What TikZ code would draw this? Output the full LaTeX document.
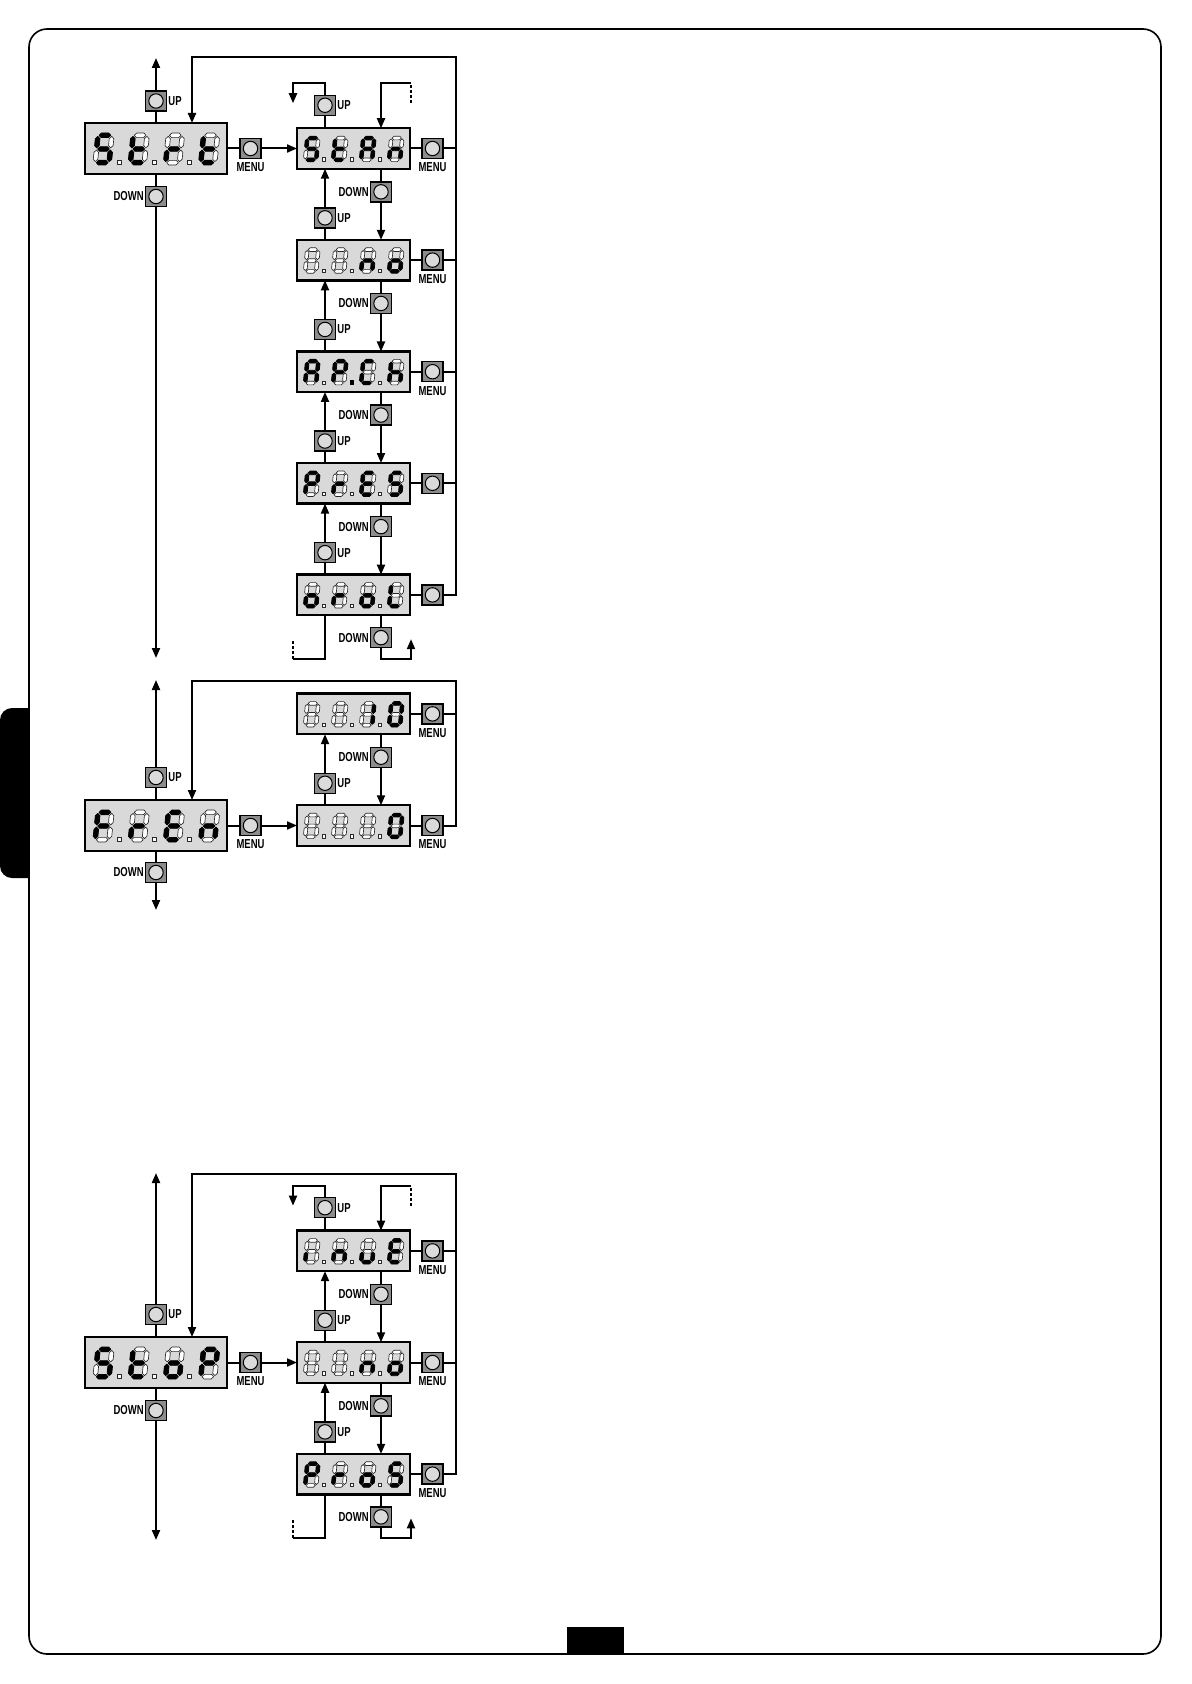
\documentclass[tikz,border=0pt]{standalone}
\usepackage{fontspec}
\setmainfont{Liberation Sans}
\usepackage{graphicx}
\usetikzlibrary{arrows.meta}
\definecolor{dispbg}{gray}{0.85}
\definecolor{btnfill}{gray}{0.55}
\definecolor{btncirc}{gray}{0.86}
\tikzset{
 bigdisp/.style={draw=black, line width=1.2pt, fill=dispbg, minimum width=71pt, minimum height=25.5pt, inner sep=0pt, outer sep=0pt},
 smalldisp/.style={bigdisp, minimum width=56.5pt, minimum height=20.25pt},
 btn/.style={draw=black, line width=0.7pt, fill=btnfill, minimum width=10.5pt, minimum height=10pt, inner sep=0pt, outer sep=0pt,
   path picture={\draw[line width=0.5pt, fill=btncirc] (path picture bounding box.center) circle (3.6pt);}},
 conn/.style={line width=1pt},
 arr/.style={conn, -{Triangle[length=5pt,width=4pt]}},
 dsh/.style={line width=1pt, dash pattern=on 1.5pt off 1pt},
 lbl/.style={inner sep=0pt, font=\fontsize{6.5}{7}\selectfont\bfseries},
 sg0/.style={fill=white, draw=black!85, line width=0.32pt, line join=round},
 sg1/.style={fill=black, draw=black, line width=0.4pt, line join=round},
}
\newcommand\btnlbl[1]{\scalebox{0.73}[1]{#1}}
\newcommand\sevseg[7]{%
 \path[sg#1] (3.4,-29.7) -- (5.7,-32) -- (12.8,-32) -- (15.1,-29.7) -- (12.8,-27.4) -- (5.7,-27.4) -- cycle;
 \path[sg#2] (16.2,-28.6) -- (18.5,-26.3) -- (18.5,-19.4) -- (16.2,-17.1) -- (13.9,-19.4) -- (13.9,-26.3) -- cycle;
 \path[sg#3] (16.2,-14.9) -- (18.5,-12.6) -- (18.5,-5.7) -- (16.2,-3.4) -- (13.9,-5.7) -- (13.9,-12.6) -- cycle;
 \path[sg#4] (3.4,-2.3) -- (5.7,-4.6) -- (12.8,-4.6) -- (15.1,-2.3) -- (12.8,0) -- (5.7,0) -- cycle;
 \path[sg#5] (2.3,-14.9) -- (4.6,-12.6) -- (4.6,-5.7) -- (2.3,-3.4) -- (0,-5.7) -- (0,-12.6) -- cycle;
 \path[sg#6] (2.3,-28.6) -- (4.6,-26.3) -- (4.6,-19.4) -- (2.3,-17.1) -- (0,-19.4) -- (0,-26.3) -- cycle;
 \path[sg#7] (3.4,-16) -- (5.7,-18.3) -- (12.8,-18.3) -- (15.1,-16) -- (12.8,-13.7) -- (5.7,-13.7) -- cycle;
}
\def\dpts#1#2#3{%
 \path[sg#1] (32.2,37) rectangle (36.2,41);
 \path[sg#2] (67.4,37) rectangle (71.4,41);
 \path[sg#3] (102.6,37) rectangle (106.6,41);}
\newcommand\showdisp[7]{%
 \begin{scope}[shift={(#1.north west)}, scale=#2]
  \begin{scope}[shift={(7.7,42)}, xslant=0.1]\sevseg#3\end{scope}
  \begin{scope}[shift={(42.9,42)}, xslant=0.1]\sevseg#4\end{scope}
  \begin{scope}[shift={(78.1,42)}, xslant=0.1]\sevseg#5\end{scope}
  \begin{scope}[shift={(113.3,42)}, xslant=0.1]\sevseg#6\end{scope}
  \dpts#7
 \end{scope}}
% up/down pair between two stacked small displays
\newcommand\pair[4]{%
 \draw[arr] (#3) -- (#3 |- #1.south);
 \draw[conn] (#2.north -| #3) -- (#3);
 \draw[conn] (#1.south -| #4) -- (#4);
 \draw[arr] (#4) -- (#4 |- #2.north);
 \node[lbl,anchor=west,xshift=0.75pt] (#3l) at (#3.east) {\btnlbl{UP}};
 \node[lbl,anchor=east,xshift=-0.75pt] (#4l) at (#4.west) {\btnlbl{DOWN}};
}
\newcommand\uplbl[1]{\node[lbl,anchor=west,xshift=0.75pt] (#1l) at (#1.east) {\btnlbl{UP}};}
\newcommand\dnlbl[1]{\node[lbl,anchor=east,xshift=-0.75pt] (#1l) at (#1.west) {\btnlbl{DOWN}};}
\newcommand\mnlbl[1]{\node[lbl,anchor=north,yshift=-2pt] (#1l) at (#1.south) {\btnlbl{MENU}};}

\begin{document}
\begin{tikzpicture}[x=0.5pt,y=-0.5pt]
\useasboundingbox (0,0) rectangle (1191,1684);
% page decorations
\fill (29,708) -- (12,708) arc[start angle=90,end angle=180,radius=6pt] -- (0,866) arc[start angle=180,end angle=270,radius=6pt] -- (29,878) -- cycle;
\fill (567,1627) rectangle (624,1654);
\draw[line width=0.8pt, rounded corners=9pt] (29,29) rectangle (1161,1654);

% ================= SECTION 1 =================
\node[bigdisp] (strt) at (156,148.5) {};
\node[btn] (s1up) at (156,101) {};
\node[btn] (s1dn) at (156,196.5) {};
\node[btn] (s1mn) at (250.5,148.5) {};
\coordinate (s1top) at (156,58);
\coordinate (s1bot) at (156,658);
\uplbl{s1up}\dnlbl{s1dn}\mnlbl{s1mn}
\draw[conn] (strt) -- (s1up);
\draw[arr] (s1up) -- (s1top);
\draw[conn] (strt) -- (s1dn);
\draw[arr] (s1dn) -- (s1bot);

\node[smalldisp] (d10) at (353.5,148.5) {};
\node[smalldisp] (d11) at (353.5,260.1) {};
\node[smalldisp] (d12) at (353.5,371.7) {};
\node[smalldisp] (d13) at (353.5,483.3) {};
\node[smalldisp] (d14) at (353.5,594.9) {};
\draw[conn] (strt) -- (s1mn);
\draw[arr] (s1mn) -- (d10);

\node[btn] (u10) at (325,217.85) {};  \node[btn] (w10) at (381,191.85) {};
\node[btn] (u11) at (325,329.45) {};  \node[btn] (w11) at (381,303.45) {};
\node[btn] (u12) at (325,441.05) {};  \node[btn] (w12) at (381,415.05) {};
\node[btn] (u13) at (325,552.65) {};  \node[btn] (w13) at (381,526.65) {};
\pair{d10}{d11}{u10}{w10}
\pair{d11}{d12}{u11}{w11}
\pair{d12}{d13}{u12}{w12}
\pair{d13}{d14}{u13}{w13}

\node[btn] (m10) at (432.5,148.5) {};
\node[btn] (m11) at (432.5,260.1) {};
\node[btn] (m12) at (432.5,371.7) {};
\node[btn] (m13) at (432.5,483.3) {};
\node[btn] (m14) at (432.5,594.9) {};
\mnlbl{m10}\mnlbl{m11}\mnlbl{m12}
\coordinate (r1) at (456,57);
\coordinate (l1) at (192,57);
\draw[conn] (d10) -- (m10); \draw[conn] (m10) -- (m10 -| r1);
\draw[conn] (d11) -- (m11); \draw[conn] (m11) -- (m11 -| r1);
\draw[conn] (d12) -- (m12); \draw[conn] (m12) -- (m12 -| r1);
\draw[conn] (d13) -- (m13); \draw[conn] (m13) -- (m13 -| r1);
\draw[conn] (d14) -- (m14);
\draw[arr] (m14) -- (m14 -| r1) -- (r1) -- (l1) -- (l1 |- strt.north);

% above Stan
\node[btn] (ut1) at (325,105.25) {}; \uplbl{ut1}
\coordinate (t1a) at (325,83.25); \coordinate (t1b) at (293,83.25); \coordinate (t1c) at (293,103.25);
\coordinate (t1d) at (411,103.25); \coordinate (t1e) at (411,83.25); \coordinate (t1f) at (381,83.25);
\draw[conn] (d10.north -| ut1) -- (ut1);
\draw[arr] (ut1) -- (t1a) -- (t1b) -- (t1c);
\draw[dsh] (t1d) -- (t1e);
\draw[arr] (t1e) -- (t1f) -- (t1f |- d10.north);
% below orol
\node[btn] (bd1) at (381,637.65) {}; \dnlbl{bd1}
\coordinate (b1a) at (325,659.15); \coordinate (b1b) at (293,659.15); \coordinate (b1c) at (293,639.15);
\coordinate (b1d) at (381,659.15); \coordinate (b1e) at (411,659.15); \coordinate (b1f) at (411,639.15);
\draw[conn] (d14.south -| b1a) -- (b1a) -- (b1b);
\draw[dsh] (b1b) -- (b1c);
\draw[conn] (d14.south -| bd1) -- (bd1);
\draw[arr] (bd1) -- (b1d) -- (b1e) -- (b1f);

\showdisp{strt}{1}{1011011}{0001111}{0000101}{0001111}{000}
\showdisp{d10}{0.795}{1011011}{0001111}{1110111}{0010101}{000}
\showdisp{d11}{0.795}{0000000}{0000000}{0010101}{0011101}{000}
\showdisp{d12}{0.795}{1110111}{1100111}{1001110}{0010111}{010}
\showdisp{d13}{0.795}{1100111}{0000101}{1001111}{1011011}{000}
\showdisp{d14}{0.795}{0011101}{0000101}{0011101}{0001110}{000}

% ================= SECTION 2 =================
\node[bigdisp] (fren) at (156,825.5) {};
\node[btn] (s2up) at (156,777.5) {};
\node[btn] (s2dn) at (156,872.5) {};
\node[btn] (s2mn) at (250.5,825.5) {};
\coordinate (s2top) at (156,680);
\coordinate (s2bot) at (156,910);
\uplbl{s2up}\dnlbl{s2dn}\mnlbl{s2mn}
\draw[conn] (fren) -- (s2up);
\draw[arr] (s2up) -- (s2top);
\draw[conn] (fren) -- (s2dn);
\draw[arr] (s2dn) -- (s2bot);

\node[smalldisp] (d20) at (353.5,713.9) {};
\node[smalldisp] (d21) at (353.5,825.5) {};
\draw[conn] (fren) -- (s2mn);
\draw[arr] (s2mn) -- (d21);
\node[btn] (u20) at (325,783.25) {};  \node[btn] (w20) at (381,757.25) {};
\pair{d20}{d21}{u20}{w20}
\node[btn] (m20) at (432.5,713.9) {};
\node[btn] (m21) at (432.5,825.5) {};
\mnlbl{m20}\mnlbl{m21}
\coordinate (r2) at (456,681);
\coordinate (l2) at (192,681);
\draw[conn] (d20) -- (m20); \draw[conn] (m20) -- (m20 -| r2);
\draw[conn] (d21) -- (m21);
\draw[arr] (m21) -- (m21 -| r2) -- (r2) -- (l2) -- (l2 |- fren.north);

\showdisp{fren}{1}{1000111}{0000101}{1001111}{0010101}{000}
\showdisp{d20}{0.795}{0000000}{0000000}{0110000}{1111110}{000}
\showdisp{d21}{0.795}{0000000}{0000000}{0000000}{1111110}{000}

% ================= SECTION 3 =================
\node[bigdisp] (stop) at (156,1362.5) {};
\node[btn] (s3up) at (156,1314.5) {};
\node[btn] (s3dn) at (156,1410.5) {};
\node[btn] (s3mn) at (250.5,1362.5) {};
\coordinate (s3top) at (156,1173);
\coordinate (s3bot) at (156,1540);
\uplbl{s3up}\dnlbl{s3dn}\mnlbl{s3mn}
\draw[conn] (stop) -- (s3up);
\draw[arr] (s3up) -- (s3top);
\draw[conn] (stop) -- (s3dn);
\draw[arr] (s3dn) -- (s3bot);

\node[smalldisp] (d30) at (353.5,1250.9) {};
\node[smalldisp] (d31) at (353.5,1362.5) {};
\node[smalldisp] (d32) at (353.5,1474.1) {};
\draw[conn] (stop) -- (s3mn);
\draw[arr] (s3mn) -- (d31);
\node[btn] (u30) at (325,1320.25) {};  \node[btn] (w30) at (381,1294.25) {};
\node[btn] (u31) at (325,1431.85) {};  \node[btn] (w31) at (381,1405.85) {};
\pair{d30}{d31}{u30}{w30}
\pair{d31}{d32}{u31}{w31}
\node[btn] (m30) at (432.5,1250.9) {};
\node[btn] (m31) at (432.5,1362.5) {};
\node[btn] (m32) at (432.5,1474.1) {};
\mnlbl{m30}\mnlbl{m31}\mnlbl{m32}
\coordinate (r3) at (456,1174);
\coordinate (l3) at (192,1174);
\draw[conn] (d30) -- (m30); \draw[conn] (m30) -- (m30 -| r3);
\draw[conn] (d31) -- (m31); \draw[conn] (m31) -- (m31 -| r3);
\draw[conn] (d32) -- (m32);
\draw[arr] (m32) -- (m32 -| r3) -- (r3) -- (l3) -- (l3 |- stop.north);

% above inuE
\node[btn] (ut3) at (325,1207.65) {}; \uplbl{ut3}
\coordinate (t3a) at (325,1185.65); \coordinate (t3b) at (293,1185.65); \coordinate (t3c) at (293,1205.65);
\coordinate (t3d) at (411,1205.65); \coordinate (t3e) at (411,1185.65); \coordinate (t3f) at (381,1185.65);
\draw[conn] (d30.north -| ut3) -- (ut3);
\draw[arr] (ut3) -- (t3a) -- (t3b) -- (t3c);
\draw[dsh] (t3d) -- (t3e);
\draw[arr] (t3e) -- (t3f) -- (t3f |- d30.north);
% below ProS
\node[btn] (bd3) at (381,1516.85) {}; \dnlbl{bd3}
\coordinate (b3a) at (325,1538.35); \coordinate (b3b) at (293,1538.35); \coordinate (b3c) at (293,1518.35);
\coordinate (b3d) at (381,1538.35); \coordinate (b3e) at (411,1538.35); \coordinate (b3f) at (411,1518.35);
\draw[conn] (d32.south -| b3a) -- (b3a) -- (b3b);
\draw[dsh] (b3b) -- (b3c);
\draw[conn] (d32.south -| bd3) -- (bd3);
\draw[arr] (bd3) -- (b3d) -- (b3e) -- (b3f);

\showdisp{stop}{1}{1011011}{0001111}{0011101}{1100111}{000}
\showdisp{d30}{0.795}{0000100}{0010101}{0011100}{1001111}{000}
\showdisp{d31}{0.795}{0000000}{0000000}{0010101}{0011101}{000}
\showdisp{d32}{0.795}{1100111}{0000101}{0011101}{1011011}{000}
\end{tikzpicture}
\end{document}
